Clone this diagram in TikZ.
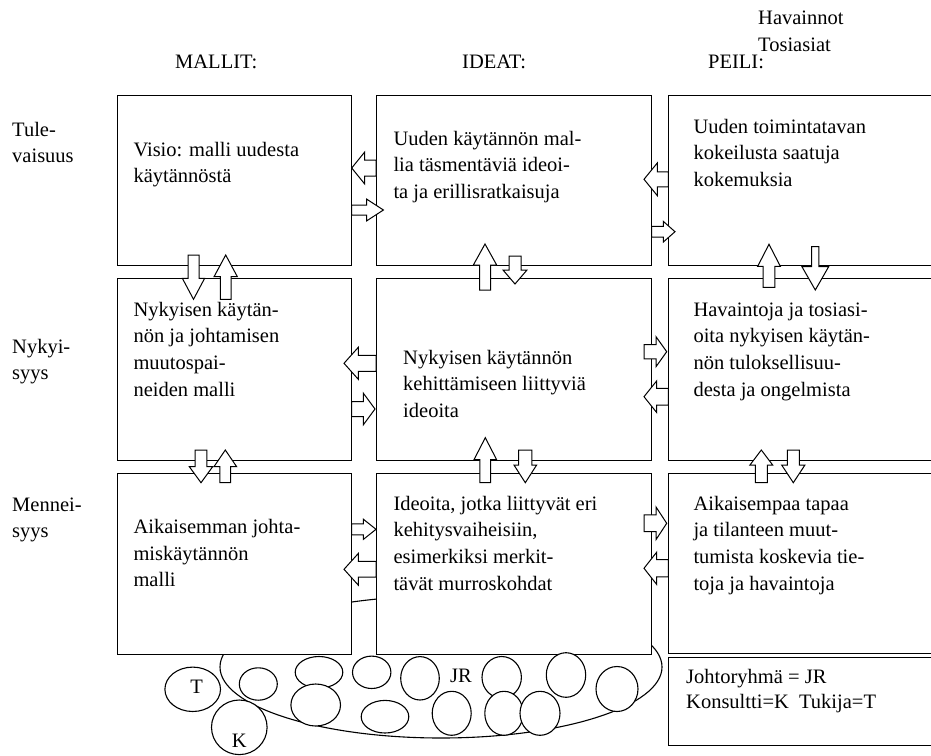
\documentclass[tikz,border=0pt]{standalone}
\usepackage{fontspec}
\setmainfont{Liberation Serif}
\usetikzlibrary{shapes.geometric}
% block arrow: tail x, tail y, direction angle, length, shaft width, head width, head length
\newcommand\blockarrow[7]{%
  \draw[barrow, shift={(#1,#2)}, rotate=#3]
    (0,{-#5/2}) -- ({#4-#7},{-#5/2}) -- ({#4-#7},{-#6/2}) -- (#4,0)
    -- ({#4-#7},{#6/2}) -- ({#4-#7},{#5/2}) -- (0,{#5/2}) -- cycle;}
\newcommand\lines[1]{\parbox[t]{280pt}{\raggedright #1}}
\begin{document}
\begin{tikzpicture}[x=1pt,y=-1pt,
  box/.style={draw, fill=white, line width=1.1pt, inner sep=0pt, anchor=north west},
  txt/.style={anchor=base west, inner sep=0pt, font=\fontsize{20.5}{26.7}\selectfont},
  blob/.style={draw, fill=white, line width=1.1pt, ellipse, inner sep=0pt},
  barrow/.style={draw, fill=white, line width=1pt, line join=miter}]
\useasboundingbox (0,0) rectangle (931,755);
\clip (0,0) rectangle (931,755);

% the steering group behind the lower row
\node[blob, minimum width=442, minimum height=142] (jr) at (441,667) {};

% grid of boxes: columns MALLIT, IDEAT, PEILI; rows future, present, past
\node[box, minimum width=234, minimum height=170]   (m1) at (116.7,95) {};
\node[box, minimum width=275, minimum height=170]   (i1) at (376,95) {};
\node[box, minimum width=300, minimum height=170]   (p1) at (668.3,95) {};
\node[box, minimum width=234, minimum height=181.7] (m2) at (116.7,278.3) {};
\node[box, minimum width=275, minimum height=181.7] (i2) at (376,278.3) {};
\node[box, minimum width=300, minimum height=181.7] (p2) at (668.3,278.3) {};
\node[box, minimum width=234, minimum height=180.7] (m3) at (116.7,473.3) {};
\node[box, minimum width=275, minimum height=180.7] (i3) at (376,473.3) {};
\node[box, minimum width=300, minimum height=179.7] (p3) at (668.3,473.3) {};
% legend box
\node[box, minimum width=300, minimum height=88.3] (leg) at (668.3,656.7) {};

% group members
\node[blob, minimum width=55.6, minimum height=44.4] (ct) at (192.7,689.3) {};
\node[blob, minimum width=55.6, minimum height=54.6] (ck) at (239.3,727.3) {};
\node[blob, minimum width=38,   minimum height=32.4] (c3) at (258.3,684) {};
\node[blob, minimum width=47.6, minimum height=31.6] (c4) at (319,672.3) {};
\node[blob, minimum width=49.6, minimum height=42]   (c5) at (315.7,705) {};
\node[blob, minimum width=38.4, minimum height=32.4] (c6) at (371.7,672.3) {};
\node[blob, minimum width=38.6, minimum height=43.4] (c7) at (420,678.3) {};
\node[blob, minimum width=47.6, minimum height=32.6] (c8) at (385,716.7) {};
\node[blob, minimum width=39,   minimum height=44]   (c9) at (451.7,713.3) {};
\node[blob, minimum width=39.4, minimum height=41.6] (c10) at (501.7,677.3) {};
\node[blob, minimum width=38.4, minimum height=44]   (c11) at (504,713.3) {};
\node[blob, minimum width=40,   minimum height=44]   (c12) at (540,713.3) {};
\node[blob, minimum width=39.4, minimum height=44.6] (c13) at (566,675) {};
\node[blob, minimum width=42,   minimum height=45]   (c14) at (617,689) {};

% arrows between columns, top row
\blockarrow{376}{168}{180}{24.3}{16}{32}{13}
\blockarrow{351.7}{210}{0}{31.7}{10}{21.7}{16.7}
\blockarrow{668.3}{179.3}{180}{24.3}{15}{32.7}{13.3}
\blockarrow{651.7}{231.7}{0}{23.3}{10.7}{20.7}{11.7}
% middle row
\blockarrow{376}{363.3}{180}{32}{16}{32}{14.3}
\blockarrow{351.7}{409}{0}{23.3}{15}{31.7}{11.7}
\blockarrow{644}{351.7}{0}{22.7}{14.3}{30}{10.7}
\blockarrow{668.3}{396.7}{180}{24.3}{16.7}{31.7}{12.7}
% bottom row
\blockarrow{351.7}{529.3}{0}{24.3}{11}{20.3}{12.7}
\blockarrow{376}{569.3}{180}{32}{15.7}{31.7}{14.3}
\blockarrow{644}{523.3}{0}{22.7}{16.7}{32.7}{10.7}
\blockarrow{668.3}{568.3}{180}{24.3}{17.3}{32.3}{12.7}
% arrows between rows, future/present
\blockarrow{193.5}{255}{270}{44.3}{11}{22.3}{21}
\blockarrow{225.7}{299.3}{90}{44.3}{10.7}{23.3}{21.7}
\blockarrow{485}{290}{90}{46}{11}{23.3}{21}
\blockarrow{515}{256}{270}{28}{12}{24}{14}
\blockarrow{769}{287.3}{90}{43}{11.7}{22.7}{22}
\blockarrow{815.3}{246.7}{270}{43.3}{7.3}{26.7}{23.3}
% present/past
\blockarrow{201}{450}{270}{32.7}{11.7}{23.3}{16}
\blockarrow{225.3}{482.7}{90}{32.7}{10.7}{22.7}{16.7}
\blockarrow{485.3}{482.7}{90}{45}{10.7}{22.7}{22}
\blockarrow{525.3}{450}{270}{32.7}{13.3}{22.7}{17.7}
\blockarrow{761.3}{482.7}{90}{32.7}{12}{22.7}{15}
\blockarrow{793.3}{450}{270}{32.7}{12}{23.3}{17.7}

% column headings
\node[txt] (hm) at (175,68) {MALLIT:};
\node[txt] (hi) at (462,68) {IDEAT:};
\node[txt] (hp) at (708,68) {PEILI:};
\node[txt] (hh) at (758,24) {Havainnot};
\node[txt] (ht) at (758,51) {Tosiasiat};

% row headings
\node[txt] (rf) at (12,136) {\lines{Tule-\\vaisuus}};
\node[txt] (rn) at (12,353) {\lines{Nykyi-\\syys}};
\node[txt] (rp) at (12,511) {\lines{Mennei-\\syys}};

% box texts
\node[txt] (tm1) at (133.3,156) {\lines{Visio: malli uudesta\\käytännöstä}};
\node[txt] (ti1) at (393.3,145) {\lines{Uuden käytännön mal-\\lia täsmentäviä ideoi-\\ta ja erillisratkaisuja}};
\node[txt] (tp1) at (693.3,133) {\lines{Uuden toimintatavan\\kokeilusta saatuja\\kokemuksia}};
\node[txt] (tm2) at (133.3,316) {\lines{Nykyisen käytän-\\nön ja johtamisen\\muutospai-\\neiden malli}};
\node[txt] (ti2) at (403,364) {\lines{Nykyisen käytännön\\kehittämiseen liittyviä\\ideoita}};
\node[txt] (tp2) at (693.3,316) {\lines{Havaintoja ja tosiasi-\\oita nykyisen käytän-\\nön tuloksellisuu-\\desta ja ongelmista}};
\node[txt] (tm3) at (133.3,533.3) {\lines{Aikaisemman johta-\\miskäytännön\\malli}};
\node[txt] (ti3) at (393.3,510) {\lines{Ideoita, jotka liittyvät eri\\kehitysvaiheisiin,\\esimerkiksi merkit-\\tävät murroskohdat}};
\node[txt] (tp3) at (693.3,510) {\lines{Aikaisempaa tapaa\\ja tilanteen muut-\\tumista koskevia tie-\\toja ja havaintoja}};

% legend and member labels
\node[txt] (tl) at (686,683.3) {\parbox[t]{240pt}{\fontsize{20.5}{25}\selectfont Johtoryhmä = JR\\Konsultti=K\ \ Tukija=T}};
\node[txt, anchor=base] (lt) at (196.7,693) {T};
\node[txt, anchor=base] (lk) at (239.3,747) {K};
\node[txt, anchor=base] (ljr) at (461,682) {JR};
\end{tikzpicture}
\end{document}
